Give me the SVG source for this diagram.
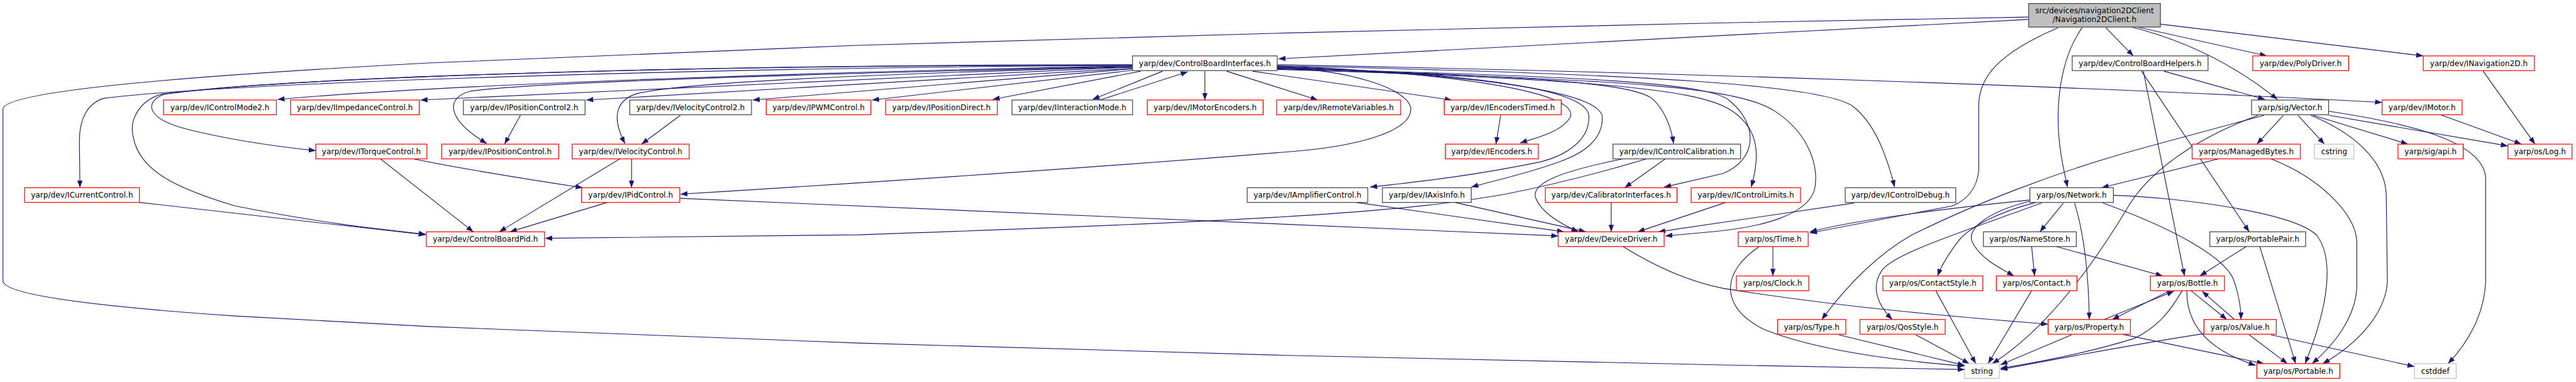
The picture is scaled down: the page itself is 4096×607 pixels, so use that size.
<svg xmlns="http://www.w3.org/2000/svg" width="4096" height="607" viewBox="0 0 4096 607">
<defs>
<marker id="a" viewBox="0 0 12 9" refX="12" refY="4.5" markerWidth="12" markerHeight="9" markerUnits="userSpaceOnUse" orient="auto"><path d="M0,0 L12,4.5 L0,9 z" fill="#191970"/></marker>
<style>
.e{fill:none;stroke:#191970;stroke-width:1.2;marker-end:url(#a)}
rect{stroke-width:1.3}
rect.r{fill:#fff;stroke:#ff0000}
rect.k{fill:#fff;stroke:#404040}
rect.g{fill:#fff;stroke:#bfbfbf}
rect.t{fill:#bfbfbf;stroke:#404040}
text{font-family:"DejaVu Sans",sans-serif;font-size:13px;text-anchor:middle;fill:#000}
</style>
</defs>
<rect width="4096" height="607" fill="#fff"/>
<g transform="scale(0.935)">
<g id="edges">
<path class="e" d="M3450,33 L2174,100"/>
<path class="e" d="M3450,29 L2920,39 L2190,56 L1460,77 L730,107 C300,130 10,155 5,185 L5,478 C8,500 150,520 400,537 L730,555 L1460,583 L2190,604 L2920,620 L3341,628"/>
<path class="e" d="M3581,47 L3628,95"/>
<path class="e" d="M3635,46 L3855,95"/>
<path class="e" d="M3674,41 L4121,95"/>
<path class="e" d="M3625,46 C3720,70 3800,110 3873,169"/>
<path class="e" d="M3541,47 C3510,90 3500,150 3500,200 C3500,250 3510,290 3516,318"/>
<path class="e" d="M3500,47 C3400,90 3365,130 3365,180 L3365,290 C3362,320 3345,340 3320,350 L3078,396"/>
<path class="e" d="M1926,112 C1500,120 800,140 472,169"/>
<path class="e" d="M1926,114 L715,170"/>
<path class="e" d="M1926,116 L997,170"/>
<path class="e" d="M1926,117 L1280,170"/>
<path class="e" d="M1930,119 L1483,170"/>
<path class="e" d="M1940,121 L1688,169"/>
<path class="e" d="M1977,121 L1858,169"/>
<path class="e" d="M1870,170 L2020,122"/>
<path class="e" d="M2049,121 L2049,170"/>
<path class="e" d="M2086,121 L2241,170"/>
<path class="e" d="M2130,121 L2469,170"/>
<path class="e" d="M2172,110 C2800,122 3500,145 4051,174"/>
<path class="e" d="M2172,112 C2500,125 2690,160 2670,200 C2655,225 2610,235 2585,243"/>
<path class="e" d="M2172,113 C2500,125 2700,150 2702,197 C2704,240 2660,265 2620,275 C2500,300 2400,310 2330,318"/>
<path class="e" d="M2172,114 C2550,128 2725,160 2725,200 C2725,240 2690,260 2660,272 C2600,295 2540,307 2502,318"/>
<path class="e" d="M2172,115 C2600,130 2770,140 2809,167 C2830,185 2842,215 2846,244"/>
<path class="e" d="M2172,116 C2700,130 2900,140 2940,170 C2990,210 2990,270 2930,295 L2830,318"/>
<path class="e" d="M2172,117 C2700,135 2880,150 2940,185 C2990,215 2995,260 2978,318"/>
<path class="e" d="M2172,118 C2800,135 2960,150 3020,190 C3080,230 3095,290 3085,325 C3070,365 3000,385 2920,393 L2832,401"/>
<path class="e" d="M2172,112 C2800,125 3100,145 3150,180 C3190,210 3210,270 3222,318"/>
<path class="e" d="M1926,113 C1400,125 900,140 800,155 C760,165 755,200 828,244"/>
<path class="e" d="M1926,114 C1500,125 1150,140 1080,160 C1040,175 1045,210 1063,244"/>
<path class="e" d="M1926,110 C1200,110 500,130 280,160 C250,170 240,200 320,220 C400,240 480,250 537,256"/>
<path class="e" d="M1926,111 C1200,110 500,130 275,160 C240,170 220,200 226,230 C235,290 300,320 400,350 C550,380 650,390 724,398"/>
<path class="e" d="M1926,111 C1200,115 400,140 177,167 C150,175 135,200 135,240 L136,319"/>
<path class="e" d="M237,344 L724,399"/>
<path class="e" d="M2172,114 C2300,120 2390,150 2399,182 C2405,225 2300,250 2190,258 C1800,290 1400,315 1157,330"/>
<path class="e" d="M885,196 L858,245"/>
<path class="e" d="M1157,196 L1091,245"/>
<path class="e" d="M1074,270 L1074,319"/>
<path class="e" d="M1054,270 L849,394"/>
<path class="e" d="M703,270 C800,290 900,305 991,319"/>
<path class="e" d="M647,270 L805,394"/>
<path class="e" d="M1033,344 L867,394"/>
<path class="e" d="M1156,337 L2650,401"/>
<path class="e" d="M2800,270 C2700,300 2620,318 2560,330 C2400,358 2200,374 1460,399 L927,405"/>
<path class="e" d="M2760,270 C2660,290 2605,310 2611,335 C2620,360 2650,378 2684,394"/>
<path class="e" d="M2832,270 L2763,319"/>
<path class="e" d="M2306,344 L2660,394"/>
<path class="e" d="M2474,344 L2697,394"/>
<path class="e" d="M2740,344 L2740,394"/>
<path class="e" d="M2935,344 L2785,394"/>
<path class="e" d="M3153,345 L2820,394"/>
<path class="e" d="M2552,196 L2544,245"/>
<path class="e" d="M2760,419 C2810,450 2870,478 2930,490 C3150,525 3350,540 3483,551"/>
<path class="e" d="M3452,340 C3300,355 3150,375 3078,394"/>
<path class="e" d="M3509,345 L3469,394"/>
<path class="e" d="M3462,344 C3400,360 3350,385 3330,410 C3315,430 3302,450 3295,469"/>
<path class="e" d="M3452,342 C3380,360 3340,390 3356,415 C3370,440 3400,455 3425,469"/>
<path class="e" d="M3472,345 C3350,390 3220,430 3200,460 C3180,490 3195,520 3218,543"/>
<path class="e" d="M3528,345 C3545,400 3552,470 3553,543"/>
<path class="e" d="M3576,345 C3700,390 3790,440 3800,480 C3810,510 3811,530 3811,543"/>
<path class="e" d="M3594,332 C3700,335 3900,360 3940,400 C3970,440 3960,520 3920,618"/>
<path class="e" d="M3455,419 L3460,469"/>
<path class="e" d="M3497,419 L3678,469"/>
<path class="e" d="M3015,419 L3015,469"/>
<path class="e" d="M2992,419 C2930,460 2920,520 3000,560 C3100,600 3250,615 3341,622"/>
<path class="e" d="M3292,494 L3360,618"/>
<path class="e" d="M3455,494 L3381,618"/>
<path class="e" d="M3127,569 L3341,621"/>
<path class="e" d="M3258,569 L3349,618"/>
<path class="e" d="M3523,569 L3402,620"/>
<path class="e" d="M3711,494 C3690,530 3670,555 3630,575 C3550,600 3470,615 3402,626"/>
<path class="e" d="M3748,567 C3600,590 3500,610 3402,628"/>
<path class="e" d="M3840,196 C3720,240 3650,300 3620,350 C3560,450 3480,560 3388,618"/>
<path class="e" d="M3850,196 L3650,250 C3500,290 3350,350 3250,400 C3180,440 3130,500 3098,543"/>
<path class="e" d="M3773,270 L3574,319"/>
<path class="e" d="M3680,121 L3852,169"/>
<path class="e" d="M3645,121 L3715,469"/>
<path class="e" d="M3642,121 L3825,394"/>
<path class="e" d="M3820,419 L3741,469"/>
<path class="e" d="M3843,419 L3904,618"/>
<path class="e" d="M3883,196 L3838,245"/>
<path class="e" d="M3908,196 L3953,245"/>
<path class="e" d="M3934,196 L4095,245"/>
<path class="e" d="M3961,196 L4265,248"/>
<path class="e" d="M3930,196 C4000,225 4055,270 4058,330 L4060,480 C4055,540 4000,590 3950,618"/>
<path class="e" d="M3862,270 C3940,300 4005,360 4008,410 L4008,490 C4005,540 3970,585 3932,618"/>
<path class="e" d="M3960,189 C4100,210 4220,240 4227,300 L4227,480 C4225,530 4200,580 4163,618"/>
<path class="e" d="M4150,195 L4288,245"/>
<path class="e" d="M4223,121 L4311,245"/>
<path class="e" d="M3690,494 L3592,543"/>
<path class="e" d="M3578,543 L3697,495"/>
<path class="e" d="M3726,494 L3787,543"/>
<path class="e" d="M3800,543 L3745,495"/>
<path class="e" d="M3719,494 C3718,540 3740,590 3836,621"/>
<path class="e" d="M3825,569 L3890,618"/>
<path class="e" d="M3862,569 L4106,623"/>
<path class="e" d="M3609,568 L3850,618"/>
</g>
<g id="n0"><rect class="t" x="3450" y="6" width="224" height="40"/><text x="3562" y="22">src/devices/navigation2DClient</text><text x="3562" y="37">/Navigation2DClient.h</text></g>
<g id="cbi"><rect class="k" x="1926" y="95" width="246" height="25"/><text x="2049" y="112">yarp/dev/ControlBoardInterfaces.h</text></g>
<g id="cbh"><rect class="k" x="3524" y="95" width="231" height="25"/><text x="3639.5" y="112">yarp/dev/ControlBoardHelpers.h</text></g>
<g id="poly"><rect class="r" x="3831" y="95" width="163" height="25"/><text x="3912.5" y="112">yarp/dev/PolyDriver.h</text></g>
<g id="inav"><rect class="r" x="4121" y="95" width="189" height="25"/><text x="4215.5" y="112">yarp/dev/INavigation2D.h</text></g>
<g id="icm2"><rect class="r" x="278" y="170" width="192" height="25"/><text x="374" y="187">yarp/dev/IControlMode2.h</text></g>
<g id="iimp"><rect class="r" x="494" y="170" width="219" height="25"/><text x="603.5" y="187">yarp/dev/IImpedanceControl.h</text></g>
<g id="ipc2"><rect class="k" x="788" y="170" width="207" height="25"/><text x="891.5" y="187">yarp/dev/IPositionControl2.h</text></g>
<g id="ivc2"><rect class="k" x="1071" y="170" width="207" height="25"/><text x="1174.5" y="187">yarp/dev/IVelocityControl2.h</text></g>
<g id="ipwm"><rect class="r" x="1303" y="170" width="178" height="25"/><text x="1392" y="187">yarp/dev/IPWMControl.h</text></g>
<g id="ipd"><rect class="r" x="1506" y="170" width="190" height="25"/><text x="1601" y="187">yarp/dev/IPositionDirect.h</text></g>
<g id="iim"><rect class="k" x="1721" y="170" width="205" height="25"/><text x="1823.5" y="187">yarp/dev/IInteractionMode.h</text></g>
<g id="ime"><rect class="r" x="1951" y="170" width="197" height="25"/><text x="2049.5" y="187">yarp/dev/IMotorEncoders.h</text></g>
<g id="irv"><rect class="r" x="2171" y="170" width="211" height="25"/><text x="2276.5" y="187">yarp/dev/IRemoteVariables.h</text></g>
<g id="iet"><rect class="r" x="2456" y="170" width="199" height="25"/><text x="2555.5" y="187">yarp/dev/IEncodersTimed.h</text></g>
<g id="vec"><rect class="k" x="3829" y="170" width="131" height="25"/><text x="3894.5" y="187">yarp/sig/Vector.h</text></g>
<g id="imot"><rect class="r" x="4051" y="170" width="136" height="25"/><text x="4119" y="187">yarp/dev/IMotor.h</text></g>
<g id="itq"><rect class="r" x="537" y="245" width="189" height="25"/><text x="631.5" y="262">yarp/dev/ITorqueControl.h</text></g>
<g id="ipc"><rect class="r" x="751" y="245" width="199" height="25"/><text x="850.5" y="262">yarp/dev/IPositionControl.h</text></g>
<g id="ivc"><rect class="r" x="973" y="245" width="199" height="25"/><text x="1072.5" y="262">yarp/dev/IVelocityControl.h</text></g>
<g id="ienc"><rect class="r" x="2458" y="245" width="158" height="25"/><text x="2537" y="262">yarp/dev/IEncoders.h</text></g>
<g id="icc"><rect class="k" x="2743" y="245" width="217" height="25"/><text x="2851.5" y="262">yarp/dev/IControlCalibration.h</text></g>
<g id="mb"><rect class="r" x="3728" y="245" width="184" height="25"/><text x="3820" y="262">yarp/os/ManagedBytes.h</text></g>
<g id="cstring"><rect class="g" x="3936" y="245" width="67" height="25"/><text x="3969.5" y="262">cstring</text></g>
<g id="api"><rect class="r" x="4078" y="245" width="111" height="25"/><text x="4133.5" y="262">yarp/sig/api.h</text></g>
<g id="log"><rect class="r" x="4265" y="245" width="109" height="25"/><text x="4319.5" y="262">yarp/os/Log.h</text></g>
<g id="icur"><rect class="r" x="42" y="319" width="195" height="25"/><text x="139.5" y="336">yarp/dev/ICurrentControl.h</text></g>
<g id="ipid"><rect class="r" x="989" y="319" width="167" height="25"/><text x="1072.5" y="336">yarp/dev/IPidControl.h</text></g>
<g id="iamp"><rect class="k" x="2121" y="319" width="205" height="25"/><text x="2223.5" y="336">yarp/dev/IAmplifierControl.h</text></g>
<g id="iax"><rect class="k" x="2351" y="319" width="151" height="25"/><text x="2426.5" y="336">yarp/dev/IAxisInfo.h</text></g>
<g id="cal"><rect class="r" x="2628" y="319" width="224" height="25"/><text x="2740" y="336">yarp/dev/CalibratorInterfaces.h</text></g>
<g id="icl"><rect class="r" x="2876" y="319" width="186" height="25"/><text x="2969" y="336">yarp/dev/IControlLimits.h</text></g>
<g id="icd"><rect class="k" x="3138" y="319" width="188" height="25"/><text x="3232" y="336">yarp/dev/IControlDebug.h</text></g>
<g id="net"><rect class="k" x="3452" y="319" width="142" height="25"/><text x="3523" y="336">yarp/os/Network.h</text></g>
<g id="cbpid"><rect class="r" x="725" y="394" width="201" height="25"/><text x="825.5" y="411">yarp/dev/ControlBoardPid.h</text></g>
<g id="dd"><rect class="r" x="2650" y="394" width="180" height="25"/><text x="2740" y="411">yarp/dev/DeviceDriver.h</text></g>
<g id="time"><rect class="r" x="2956" y="394" width="119" height="25"/><text x="3015.5" y="411">yarp/os/Time.h</text></g>
<g id="ns"><rect class="k" x="3373" y="394" width="158" height="25"/><text x="3452" y="411">yarp/os/NameStore.h</text></g>
<g id="pp"><rect class="k" x="3758" y="394" width="163" height="25"/><text x="3839.5" y="411">yarp/os/PortablePair.h</text></g>
<g id="clock"><rect class="r" x="2953" y="469" width="123" height="25"/><text x="3014.5" y="486">yarp/os/Clock.h</text></g>
<g id="cs"><rect class="r" x="3202" y="469" width="170" height="25"/><text x="3287" y="486">yarp/os/ContactStyle.h</text></g>
<g id="contact"><rect class="r" x="3395" y="469" width="137" height="25"/><text x="3463.5" y="486">yarp/os/Contact.h</text></g>
<g id="bottle"><rect class="r" x="3657" y="469" width="126" height="25"/><text x="3720" y="486">yarp/os/Bottle.h</text></g>
<g id="type"><rect class="r" x="3023" y="543" width="116" height="25"/><text x="3081" y="560">yarp/os/Type.h</text></g>
<g id="qos"><rect class="r" x="3163" y="543" width="145" height="25"/><text x="3235.5" y="560">yarp/os/QosStyle.h</text></g>
<g id="prop"><rect class="r" x="3483" y="543" width="140" height="25"/><text x="3553" y="560">yarp/os/Property.h</text></g>
<g id="value"><rect class="r" x="3748" y="543" width="123" height="25"/><text x="3809.5" y="560">yarp/os/Value.h</text></g>
<g id="string"><rect class="g" x="3341" y="618" width="59" height="25"/><text x="3370.5" y="635">string</text></g>
<g id="portable"><rect class="r" x="3838" y="618" width="141" height="25"/><text x="3908.5" y="635">yarp/os/Portable.h</text></g>
<g id="cstddef"><rect class="g" x="4106" y="618" width="71" height="25"/><text x="4141.5" y="635">cstddef</text></g>
</g>
</svg>
